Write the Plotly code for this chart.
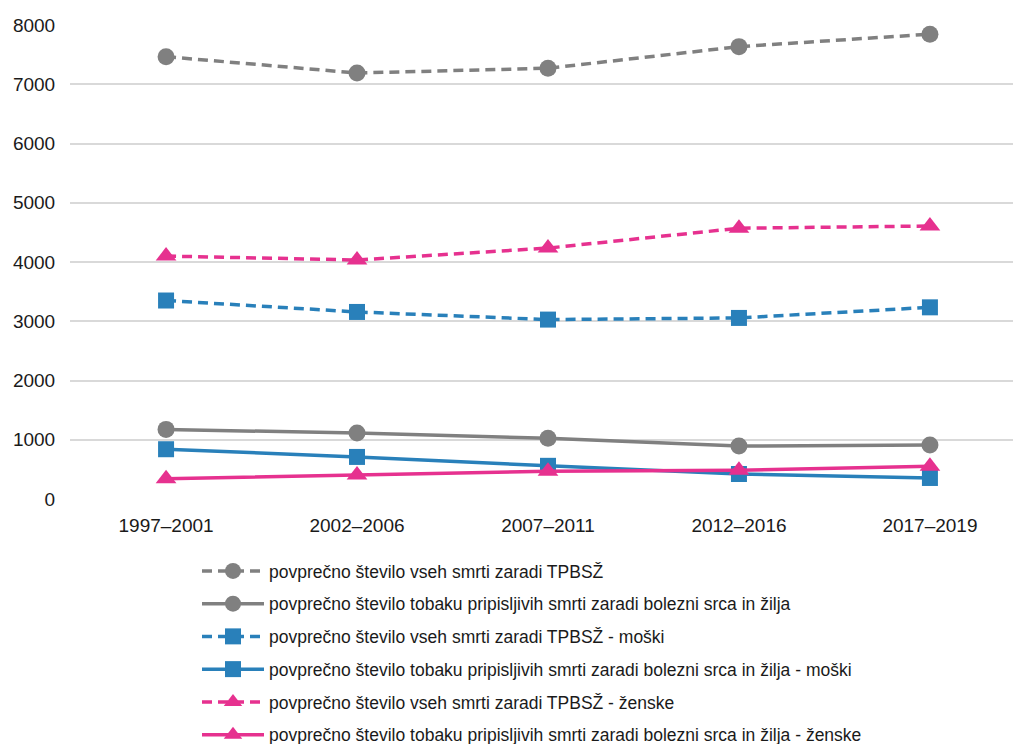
import plotly.graph_objects as go

periods = ['1997–2001', '2002–2006', '2007–2011', '2012–2016', '2017–2019']

all_deaths = [7465, 7190, 7270, 7635, 7845]
tobacco_deaths = [1175, 1112, 1025, 893, 910]
all_deaths_men = [3350, 3157, 3028, 3056, 3235]
tobacco_deaths_men = [840, 710, 560, 422, 355]
all_deaths_women = [4100, 4034, 4235, 4570, 4608]
tobacco_deaths_women = [340, 405, 470, 485, 552]

names = [
    'povprečno število vseh smrti zaradi TPBSŽ',
    'povprečno število tobaku pripisljivih smrti zaradi bolezni srca in žilja',
    'povprečno število vseh smrti zaradi TPBSŽ - moški',
    'povprečno število tobaku pripisljivih smrti zaradi bolezni srca in žilja - moški',
    'povprečno število vseh smrti zaradi TPBSŽ - ženske',
    'povprečno število tobaku pripisljivih smrti zaradi bolezni srca in žilja - ženske',
]

GRAY = '#808080'
BLUE = '#2980ba'
PINK = '#e6318f'
FONT = 'Liberation Sans, Arial, sans-serif'

series = [
    (all_deaths, GRAY, 'dash', 'circle', 17),
    (tobacco_deaths, GRAY, 'solid', 'circle', 17),
    (all_deaths_men, BLUE, 'dash', 'square', 16),
    (tobacco_deaths_men, BLUE, 'solid', 'square', 16),
    (all_deaths_women, PINK, 'dash', 'triangle-up', 18),
    (tobacco_deaths_women, PINK, 'solid', 'triangle-up', 18),
]

fig = go.Figure()
for i, (vals, color, dash, symbol, size) in enumerate(series):
    fig.add_trace(go.Scatter(
        x=periods,
        y=vals,
        name=names[i],
        legendgroup=f'g{i}',
        mode='lines+markers',
        line=dict(color=color, width=3.5, dash='10px,6px' if dash == 'dash' else 'solid'),
        marker=dict(color=color, symbol=symbol, size=size),
    ))

# figure is a bit taller than the window so the legend can sit as low as in the original
# (the last row is cut by the window edge, like the reference)
fig.update_layout(
    width=1013,
    height=755,
    plot_bgcolor='white',
    paper_bgcolor='white',
    font=dict(family=FONT, size=17.5, color='#1a1a1a'),
    margin=dict(l=70, r=0, t=25, b=256),
    showlegend=True,
    legend=dict(
        orientation='v',
        x=(197 - 70) / 943,
        xanchor='left',
        y=-(753 - 499) / 474,
        yanchor='bottom',
        tracegroupgap=7,
        itemwidth=62,
        font=dict(family=FONT, size=17.5, color='#1a1a1a'),
    ),
    xaxis=dict(
        type='category',
        range=[-0.503, 4.435],
        showgrid=False,
        showline=False,
        zeroline=False,
        ticks='outside',
        ticklen=9,
        tickcolor='rgba(0,0,0,0)',
        tickfont=dict(size=19),
    ),
    yaxis=dict(
        range=[0, 8000],
        dtick=1000,
        showgrid=True,
        gridcolor='#d9d9d9',
        gridwidth=1.5,
        zeroline=False,
        showline=False,
        ticks='outside',
        ticklen=10,
        tickcolor='rgba(0,0,0,0)',
        tickfont=dict(size=19),
    ),
)

fig.write_html(
    'out.html',
    config={'displayModeBar': False},
    post_script=(
        "document.body.style.margin='0';"
        "document.body.style.overflow='hidden';"
        "document.documentElement.style.overflow='hidden';"
    ),
)
